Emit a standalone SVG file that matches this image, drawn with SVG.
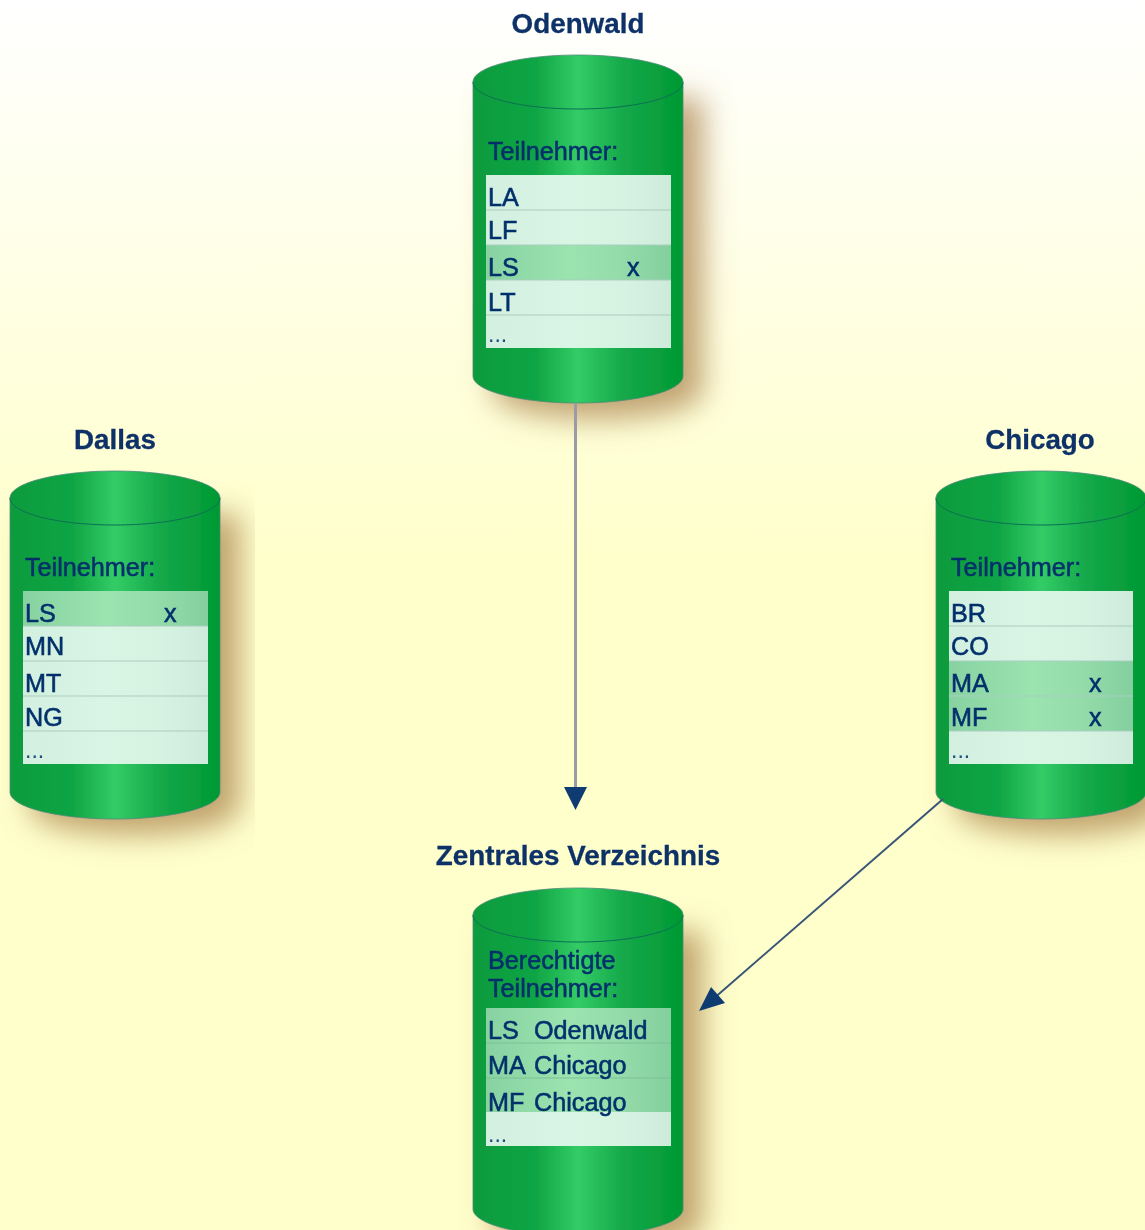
<svg xmlns="http://www.w3.org/2000/svg" width="1145" height="1230" viewBox="0 0 1145 1230">
<style>
.h{font:bold 27.8px "Liberation Sans",Arial,sans-serif;fill:#0c3068;stroke:#0c3068;stroke-width:.3;text-anchor:middle}
.t{font:25.2px "Liberation Sans",Arial,sans-serif;fill:#04306c;stroke:#04306c;stroke-width:.55}
.d{font:23px "Liberation Sans",Arial,sans-serif;fill:#1f5080}
.rl{stroke:#aacdbf;stroke-width:1.2}
.soft{filter:url(#s)}
</style>
<defs>
<linearGradient id="bg" x1="0" y1="0" x2="0" y2="1"><stop offset="0" stop-color="#ffffff"/><stop offset=".45" stop-color="#ffffcc"/><stop offset="1" stop-color="#ffffcc"/></linearGradient>
<linearGradient id="cyl"><stop offset="0" stop-color="#0b9b3d"/><stop offset=".3" stop-color="#10a545"/><stop offset=".5" stop-color="#33cc66"/><stop offset=".72" stop-color="#14a84a"/><stop offset="1" stop-color="#009933"/></linearGradient>
<linearGradient id="lite"><stop offset="0" stop-color="#d3efe0"/><stop offset=".45" stop-color="#d9f5e4"/><stop offset=".75" stop-color="#d6f3e2"/><stop offset="1" stop-color="#cdeadb"/></linearGradient>
<linearGradient id="hi"><stop offset="0" stop-color="#88d2a2"/><stop offset=".45" stop-color="#9be4b0"/><stop offset=".72" stop-color="#94dcaa"/><stop offset="1" stop-color="#84cf9e"/></linearGradient>
<filter id="b" x="-60%" y="-40%" width="220%" height="180%"><feGaussianBlur stdDeviation="15"/></filter>
<filter id="s" x="-60%" y="-40%" width="220%" height="180%"><feGaussianBlur stdDeviation="0.55"/></filter>
<g id="cylinder">
<path d="M0 27V321C0 336 47 348 105 348S210 336 210 321V27Z" transform="translate(20 16)" fill="#a8804a" fill-opacity=".72" filter="url(#b)"/>
<path d="M0 27V321C0 336 47 348 105 348S210 336 210 321V27C210 12 163 0 105 0S0 12 0 27Z" fill="url(#cyl)" stroke="#4f8a78" stroke-width=".8"/>
<path d="M0 27C0 42 47 54 105 54S210 42 210 27" fill="none" stroke="#0b6f55" stroke-width="1"/>
</g>
</defs>
<rect width="1145" height="1230" fill="url(#bg)"/>

<g id="odenwald" class="soft" transform="translate(473 55)">
<use href="#cylinder"/>
<rect x="13" y="120" width="185" height="35" fill="url(#lite)"/>
<rect x="13" y="155" width="185" height="35" fill="url(#lite)"/>
<rect x="13" y="190" width="185" height="35" fill="url(#hi)"/>
<rect x="13" y="225" width="185" height="35" fill="url(#lite)"/>
<rect x="13" y="260" width="185" height="33" fill="url(#lite)"/>
<path class="rl" d="M13 155H198M13 190H198M13 225H198M13 260H198"/>
<text class="h" x="105" y="-22">Odenwald</text>
<text class="t" x="15" y="105">Teilnehmer:</text>
<text class="t" x="15" y="151">LA</text>
<text class="t" x="15" y="184">LF</text>
<text class="t" x="15" y="221">LS</text>
<text class="t" x="154" y="221">x</text>
<text class="t" x="15" y="256">LT</text>
<text class="d" x="15" y="287">...</text>
</g>

<g id="dallas" class="soft" transform="translate(10 471)">
<use href="#cylinder"/>
<rect x="13" y="120" width="185" height="35" fill="url(#hi)"/>
<rect x="13" y="155" width="185" height="35" fill="url(#lite)"/>
<rect x="13" y="190" width="185" height="35" fill="url(#lite)"/>
<rect x="13" y="225" width="185" height="35" fill="url(#lite)"/>
<rect x="13" y="260" width="185" height="33" fill="url(#lite)"/>
<path class="rl" d="M13 155H198M13 190H198M13 225H198M13 260H198"/>
<text class="h" x="105" y="-22">Dallas</text>
<text class="t" x="15" y="105">Teilnehmer:</text>
<text class="t" x="15" y="151">LS</text>
<text class="t" x="154" y="151">x</text>
<text class="t" x="15" y="184">MN</text>
<text class="t" x="15" y="221">MT</text>
<text class="t" x="15" y="255">NG</text>
<text class="d" x="15" y="287">...</text>
</g>

<g id="chicago" class="soft" transform="translate(936 471)">
<use href="#cylinder"/>
<rect x="13" y="120" width="184" height="35" fill="url(#lite)"/>
<rect x="13" y="155" width="184" height="35" fill="url(#lite)"/>
<rect x="13" y="190" width="184" height="35" fill="url(#hi)"/>
<rect x="13" y="225" width="184" height="35" fill="url(#hi)"/>
<rect x="13" y="260" width="184" height="33" fill="url(#lite)"/>
<path class="rl" d="M13 155H197M13 190H197M13 225H197M13 260H197"/>
<text class="h" x="104" y="-22">Chicago</text>
<text class="t" x="15" y="151">BR</text>
<text class="t" x="15" y="105">Teilnehmer:</text>
<text class="t" x="15" y="184">CO</text>
<text class="t" x="15" y="221">MA</text>
<text class="t" x="153" y="221">x</text>
<text class="t" x="15" y="255">MF</text>
<text class="t" x="153" y="255">x</text>
<text class="d" x="15" y="287">...</text>
</g>

<g id="zentral" class="soft" transform="translate(473 888)">
<use href="#cylinder"/>
<rect x="13" y="120" width="185" height="35" fill="url(#hi)"/>
<rect x="13" y="155" width="185" height="35" fill="url(#hi)"/>
<rect x="13" y="190" width="185" height="35" fill="url(#hi)"/>
<rect x="13" y="224" width="185" height="34" fill="url(#lite)"/>
<path class="rl" d="M13 155H198M13 190H198" style="stroke:#7cc096"/>
<text class="h" x="105" y="-23">Zentrales Verzeichnis</text>
<text class="t" x="15" y="81">Berechtigte</text>
<text class="t" x="15" y="109">Teilnehmer:</text>
<text class="t" x="15" y="151">LS</text>
<text class="t" x="61" y="151">Odenwald</text>
<text class="t" x="15" y="186">MA</text>
<text class="t" x="61" y="186">Chicago</text>
<text class="t" x="15" y="223">MF</text>
<text class="t" x="61" y="223">Chicago</text>
<text class="d" x="15" y="254">...</text>
</g>

<g id="connectors" class="soft">
<path d="M575.5 403V790" fill="none" stroke="#9b9ba6" stroke-width="3"/>
<path d="M564 787H587L575.5 810Z" fill="#0f3a72"/>
<path d="M943 799L712 1000" fill="none" stroke="#3a5578" stroke-width="2"/>
<path d="M699 1011L711 987L725 1003Z" fill="#0f3a72"/>
</g>
</svg>
